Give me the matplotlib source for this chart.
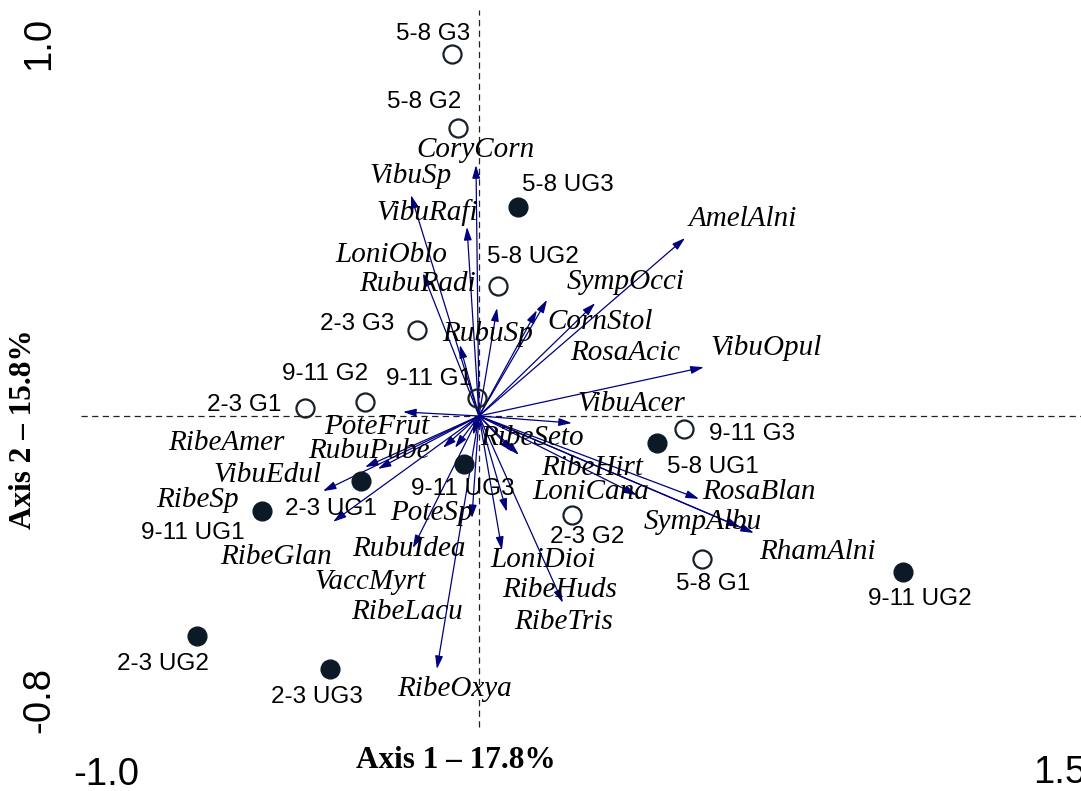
import matplotlib
matplotlib.use("Agg")
import matplotlib.pyplot as plt

# ---------------- data (ordination scores, axis units) ----------------
site_names = ["5-8 G3", "5-8 G2", "5-8 UG3", "5-8 UG2", "2-3 G3", "9-11 G2",
              "9-11 G1", "2-3 G1", "2-3 UG1", "9-11 UG1", "9-11 UG3", "2-3 UG2",
              "2-3 UG3", "9-11 G3", "5-8 UG1", "2-3 G2", "5-8 G1", "9-11 UG2"]
site_x = [-0.072, -0.056, 0.104, 0.051, -0.165, -0.303,
          -0.005, -0.463, -0.314, -0.577, -0.040, -0.750,
          -0.396, 0.545, 0.473, 0.247, 0.593, 1.128]
site_y = [0.978, 0.778, 0.565, 0.351, 0.232, 0.038,
          0.049, 0.022, -0.176, -0.257, -0.130, -0.595,
          -0.684, -0.035, -0.073, -0.268, -0.386, -0.422]
# True = drawn as filled dot, False = open circle (as in the reference)
site_filled = [False, False, True, False, False, False,
               False, False, True, True, True, True,
               True, False, True, False, False, True]

species = ["CoryCorn", "VibuSp", "VibuRafi", "LoniOblo", "RubuRadi", "RubuSp",
           "SympOcci", "CornStol", "RosaAcic", "AmelAlni", "VibuOpul", "VibuAcer",
           "PoteFrut", "RibeAmer", "RubuPube", "VibuEdul", "RibeSp", "RibeGlan",
           "VaccMyrt", "RibeLacu", "RubuIdea", "PoteSp", "RibeOxya", "RibeSeto",
           "RibeHirt", "LoniCana", "LoniDioi", "RibeHuds", "RibeTris", "RosaBlan",
           "SympAlbu", "RhamAlni"]
species_x = [-0.008, -0.181, -0.032, -0.149, -0.051, 0.048,
             0.309, 0.181, 0.154, 0.548, 0.598, 0.247,
             -0.202, -0.303, -0.269, -0.415, -0.388, -0.096,
             -0.064, -0.016, -0.176, -0.019, -0.112, 0.090,
             0.106, 0.420, 0.061, 0.074, 0.223, 0.585,
             0.731, 0.694]
species_y = [0.678, 0.597, 0.511, 0.386, 0.192, 0.292,
             0.305, 0.314, 0.286, 0.481, 0.132, -0.019,
             0.011, -0.138, -0.143, -0.203, -0.286, -0.086,
             -0.086, -0.051, -0.357, -0.276, -0.684, -0.097,
             -0.105, -0.214, -0.362, -0.259, -0.505, -0.224,
             -0.316, -0.300]

x_tick_labels = ["-1.0", "1.5"]
y_tick_labels = ["1.0", "-0.8"]
x_title = "Axis 1 \u2013 17.8%"
y_title = "Axis 2 \u2013 15.8%"

# ---------------- layout (pixels) ----------------
W, H = 1081, 791
X0, Y0, SX, SY = 479, 416, 376, 370  # pixel of origin and pixels per unit

site_label_px = [(433, 34), (424, 102), (568, 185), (533, 257), (357, 324), (325, 374),
                 (429, 379), (244, 405), (331, 509), (193, 533), (463, 489), (163, 664),
                 (317, 697), (752, 434), (713, 467), (587, 537), (713, 584), (920, 599)]
species_label_px = [(476, 150), (411, 176), (427, 213), (391, 255), (418, 284), (488, 334),
                    (626, 282), (600, 322), (625, 353), (743, 219), (766, 348), (631, 404),
                    (377, 427), (226, 443), (369, 451), (268, 475), (197, 500), (276, 557),
                    (370, 582), (407, 612), (409, 549), (431, 513), (455, 689), (532, 438),
                    (592, 468), (591, 492), (543, 560), (560, 590), (564, 622), (759, 492),
                    (703, 522), (817, 552)]


def px2d(px, py):
    return (px - X0) / SX, (Y0 - py) / SY


fig = plt.figure(figsize=(W / 100, H / 100), dpi=100)
ax = fig.add_axes([0, 0, 1, 1])
ax.set_xlim(px2d(0, 0)[0], px2d(W, 0)[0])
ax.set_ylim(px2d(0, H)[1], px2d(0, 0)[1])
ax.axis("off")

# dashed reference lines
xl0 = px2d(81, 0)[0]
xl1 = px2d(W, 0)[0]
yl0 = px2d(0, 727)[1]
yl1 = px2d(0, 10)[1]
ax.plot([xl0, xl1], [0, 0], color="#222222", lw=0.9, ls=(0, (5, 3.5)), zorder=1)
ax.plot([0, 0], [yl0, yl1], color="#222222", lw=0.9, ls=(0, (5, 3.5)), zorder=1)

arrow_color = "#000080"
for sx, sy in zip(species_x, species_y):
    ax.annotate("", xy=(sx, sy), xytext=(0, 0),
                arrowprops=dict(arrowstyle="-|>,head_length=0.6,head_width=0.18",
                                color=arrow_color, lw=0.9, shrinkA=0, shrinkB=0,
                                mutation_scale=13),
                zorder=3)

for name, (lx, ly) in zip(species, species_label_px):
    dx, dy = px2d(lx, ly)
    ax.text(dx, dy, name, ha="center", va="center", fontsize=21,
            family="Liberation Serif", style="italic", color="black", zorder=4)

marker_dark = "#0b1a26"
for filled, sx, sy in zip(site_filled, site_x, site_y):
    if filled:
        ax.plot(sx, sy, "o", ms=13.5, mfc=marker_dark, mec=marker_dark, mew=1, zorder=5)
    else:
        ax.plot(sx, sy, "o", ms=13, mfc="none", mec="#15202a", mew=1.6, zorder=5)

for name, (lx, ly) in zip(site_names, site_label_px):
    dx, dy = px2d(lx, ly)
    ax.text(dx, dy, name, ha="center", va="center", fontsize=17.5,
            family="Liberation Sans", color="black", zorder=6)

# tick labels at the ends of the axes
fig.text(106 / W, 1 - 775 / H, x_tick_labels[0], ha="center", va="center",
         fontsize=27.5, family="Liberation Sans")
fig.text(1033 / W, 1 - 773 / H, x_tick_labels[1], ha="left", va="center",
         fontsize=27.5, family="Liberation Sans")
fig.text(39 / W, 1 - 43 / H, y_tick_labels[0], ha="center", va="center",
         fontsize=27.5, family="Liberation Sans", rotation=90)
fig.text(39 / W, 1 - 700 / H, y_tick_labels[1], ha="center", va="center",
         fontsize=27.5, family="Liberation Sans", rotation=90)

fig.text(456 / W, 1 - 760 / H, x_title, ha="center", va="center",
         fontsize=22.5, family="Liberation Serif", weight="bold")
fig.text(24 / W, 1 - 429 / H, y_title, ha="center", va="center",
         fontsize=22.5, family="Liberation Serif", weight="bold", rotation=90)

fig.savefig("out.png", dpi=100)
